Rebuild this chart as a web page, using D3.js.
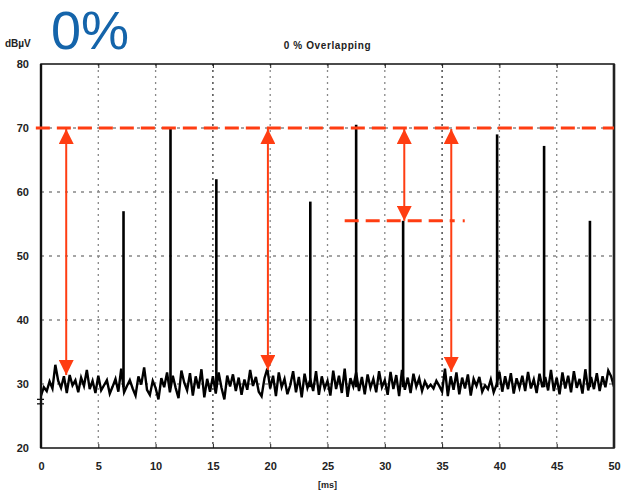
<!DOCTYPE html>
<html>
<head>
<meta charset="utf-8">
<script src="https://cdn.jsdelivr.net/npm/d3@7"></script>
<style>
  body { margin: 0; background: #fff; }
  svg { display: block; }
</style>
</head>
<body>
<div id="graph"></div>
<script>
// noise floor, one value every 0.25 ms from 0 to 50 ms (dBuV)
var noiseStep = 0.25;
var noise = [
  28.2,29.5,28.9,30.4,29.3,33.0,30.5,29.4,31.2,28.6,31.4,29.8,30.6,28.7,31.0,29.7,32.2,29.2,30.5,28.6,
  31.3,29.0,29.8,30.6,28.5,29.6,30.8,28.8,32.4,28.7,29.7,30.6,29.3,28.2,31.2,29.9,32.6,29.1,28.3,30.5,
  29.4,27.6,30.9,29.5,31.8,28.7,31.3,29.4,27.8,32.1,30.2,29.0,31.7,28.2,31.2,29.3,32.3,27.9,30.8,28.8,
  31.2,28.5,31.8,29.4,27.6,31.3,29.6,31.5,28.9,31.0,28.3,30.7,29.1,32.2,29.7,31.1,28.8,28.1,30.9,32.4,
  29.3,31.3,28.1,31.8,29.5,30.8,28.4,29.8,32.0,28.7,31.1,27.9,31.6,29.4,30.7,28.9,32.0,28.3,31.2,29.3,
  30.5,28.2,32.1,29.2,31.3,28.6,32.4,28.0,30.9,29.6,31.8,28.9,31.1,28.4,31.5,29.4,30.8,28.7,32.0,29.5,
  30.6,28.3,31.9,29.2,31.4,28.1,32.2,29.1,31.0,28.6,31.6,29.6,30.9,28.9,30.4,29.4,29.9,29.3,30.5,29.7,
  28.8,32.4,28.1,31.2,29.1,31.8,28.4,31.0,29.3,31.5,28.2,30.8,29.7,31.1,28.8,29.8,29.2,30.7,28.7,29.9,
  31.9,28.8,31.2,29.2,31.7,28.5,30.9,29.4,31.3,28.9,31.9,29.3,30.7,28.6,31.6,29.5,31.1,29.0,32.2,28.9,
  31.0,28.4,31.8,29.3,31.3,28.7,32.0,29.4,30.8,28.5,32.3,29.0,31.1,29.2,31.7,28.9,31.2,29.5,32.1,31.2,29.6
];

// pulses
var spikeTimes = [7.2, 11.3, 15.3, 23.5, 27.5, 31.6, 39.8, 43.9, 47.9];
var spikePeaks = [57, 70, 62, 58.5, 70.5, 55.5, 69, 67.2, 55.5];

// annotations: arrows [time, from dB, to dB]
var arrowTimes = [2.2, 19.8, 31.7, 35.8];
var arrowTops = [70, 70, 70, 70];
var arrowBottoms = [31.4, 32.2, 55.5, 31.9];
var refLevel = 70;
var lowLevel = 55.5;
var lowLevelRange = [26.5, 36.1];

var xTicks = [0, 5, 10, 15, 20, 25, 30, 35, 40, 45, 50];
var yTicks = [20, 30, 40, 50, 60, 70, 80];

var red = "#ff3d12";

var margin = {top: 64, right: 11, bottom: 42, left: 41},
    width = 625 - margin.left - margin.right,
    height = 490 - margin.top - margin.bottom;

var xScale = d3.scaleLinear().domain([0, 50]).range([0, width]);
var yScale = d3.scaleLinear().domain([20, 80]).range([height, 0]);

var root = d3.select("div#graph").append("svg")
    .attr("width", 625)
    .attr("height", 490);

var defs = root.append("defs");
defs.append("marker")
    .attr("id", "head")
    .attr("viewBox", "0 0 10 10")
    .attr("refX", 10).attr("refY", 5)
    .attr("markerUnits", "userSpaceOnUse")
    .attr("markerWidth", 15).attr("markerHeight", 15)
    .attr("orient", "auto-start-reverse")
  .append("path")
    .attr("d", "M0,0 L10,5 L0,10 Z")
    .attr("fill", red);

// big label
root.append("text")
    .attr("x", 51).attr("y", 49)
    .attr("font-family", "Liberation Sans, Arial, sans-serif")
    .attr("font-size", 54)
    .attr("fill", "#1464aa")
    .text("0%");

root.append("text")
    .attr("x", 5).attr("y", 47)
    .attr("font-family", "Liberation Sans, Arial, sans-serif")
    .attr("font-weight", "bold")
    .attr("font-size", 10)
    .attr("fill", "#222")
    .text("dBµV");

root.append("text")
    .attr("x", margin.left + width / 2).attr("y", 49)
    .attr("text-anchor", "middle")
    .attr("font-family", "Liberation Sans, Arial, sans-serif")
    .attr("font-weight", "bold")
    .attr("font-size", 10)
    .attr("letter-spacing", 0.6)
    .attr("fill", "#222")
    .text("0 % Overlapping");

var svg = root.append("g")
    .attr("transform", "translate(" + margin.left + "," + margin.top + ")");

// grid
svg.append("g").selectAll("line.vg")
    .data(xTicks.slice(1, -1)).enter().append("line")
    .attr("x1", function(d) { return xScale(d); })
    .attr("x2", function(d) { return xScale(d); })
    .attr("y1", 0).attr("y2", height)
    .attr("stroke", function(d) { return (d == 15 || d == 35) ? "#333" : "#888"; })
    .attr("stroke-width", 1.3)
    .attr("stroke-dasharray", "2,4");

svg.append("g").selectAll("line.hg")
    .data(yTicks.slice(1, -1)).enter().append("line")
    .attr("x1", 0).attr("x2", width)
    .attr("y1", function(d) { return yScale(d); })
    .attr("y2", function(d) { return yScale(d); })
    .attr("stroke", "#888")
    .attr("stroke-width", 1.3)
    .attr("stroke-dasharray", "3,5");

// axes
var fontAxis = function(g) {
  g.select(".domain").remove();
  g.selectAll("text")
    .attr("font-family", "Liberation Sans, Arial, sans-serif")
    .attr("font-weight", "bold")
    .attr("font-size", 11)
    .attr("fill", "#222");
  g.selectAll(".tick line").attr("stroke", "#222");
};

svg.append("g")
    .attr("transform", "translate(0," + height + ")")
    .call(d3.axisBottom(xScale).tickValues(xTicks).tickSize(-4).tickPadding(14))
    .call(fontAxis);

svg.append("g")
    .call(d3.axisTop(xScale).tickValues(xTicks).tickSize(-4).tickFormat(""))
    .call(fontAxis);

svg.append("g")
    .call(d3.axisLeft(yScale).tickValues(yTicks).tickSize(0).tickPadding(12))
    .call(fontAxis);

svg.append("text")
    .attr("x", width / 2).attr("y", height + 40)
    .attr("text-anchor", "middle")
    .attr("font-family", "Liberation Sans, Arial, sans-serif")
    .attr("font-weight", "bold")
    .attr("font-size", 9)
    .attr("fill", "#222")
    .text("[ms]");

// noise trace
var line = d3.line()
    .x(function(d, i) { return xScale(i * noiseStep); })
    .y(function(d) { return yScale(d); });

svg.append("path")
    .datum(noise)
    .attr("d", line)
    .attr("fill", "none")
    .attr("stroke", "#000")
    .attr("stroke-width", 2.4)
    .attr("stroke-linejoin", "miter");

// pulses
svg.append("g").selectAll("line.spike")
    .data(spikeTimes).enter().append("line")
    .attr("x1", function(d) { return xScale(d); })
    .attr("x2", function(d) { return xScale(d); })
    .attr("y1", yScale(29.5))
    .attr("y2", function(d, i) { return yScale(spikePeaks[i]); })
    .attr("stroke", "#000")
    .attr("stroke-width", 2.6);

// frame
svg.append("rect")
    .attr("width", width).attr("height", height)
    .attr("fill", "none")
    .attr("stroke", "#111")
    .attr("stroke-width", 1.5);
svg.append("line")
    .attr("x1", 0).attr("x2", 0).attr("y1", 0).attr("y2", height)
    .attr("stroke", "#111").attr("stroke-width", 2.4);
svg.append("line")
    .attr("x1", width).attr("x2", width).attr("y1", 0).attr("y2", height)
    .attr("stroke", "#222").attr("stroke-width", 2.6);

// axis break mark near 28 dB
svg.append("g").selectAll("line.brk")
    .data([27.6, 26.9]).enter().append("line")
    .attr("x1", -4).attr("x2", 3)
    .attr("y1", function(d) { return yScale(d); })
    .attr("y2", function(d) { return yScale(d); })
    .attr("stroke", "#111").attr("stroke-width", 1.3);

// red reference levels
svg.append("line")
    .attr("x1", xScale(-0.45)).attr("x2", xScale(50))
    .attr("y1", yScale(refLevel)).attr("y2", yScale(refLevel))
    .attr("stroke", red)
    .attr("stroke-width", 3)
    .attr("stroke-dasharray", "14,7");

svg.append("line")
    .attr("x1", xScale(lowLevelRange[0])).attr("x2", xScale(lowLevelRange[1]))
    .attr("y1", yScale(lowLevel)).attr("y2", yScale(lowLevel))
    .attr("stroke", red)
    .attr("stroke-width", 3)
    .attr("stroke-dasharray", "14,7");

svg.append("rect")
    .attr("x", xScale(36.8)).attr("y", yScale(lowLevel) - 1.5)
    .attr("width", 2).attr("height", 3)
    .attr("fill", red);

// arrows
svg.append("g").selectAll("line.arrow")
    .data(arrowTimes).enter().append("line")
    .attr("x1", function(d) { return xScale(d); })
    .attr("x2", function(d) { return xScale(d); })
    .attr("y1", function(d, i) { return yScale(arrowTops[i]) + 1; })
    .attr("y2", function(d, i) { return yScale(arrowBottoms[i]); })
    .attr("stroke", red)
    .attr("stroke-width", 2)
    .attr("marker-start", "url(#head)")
    .attr("marker-end", "url(#head)");
</script>
</body>
</html>
